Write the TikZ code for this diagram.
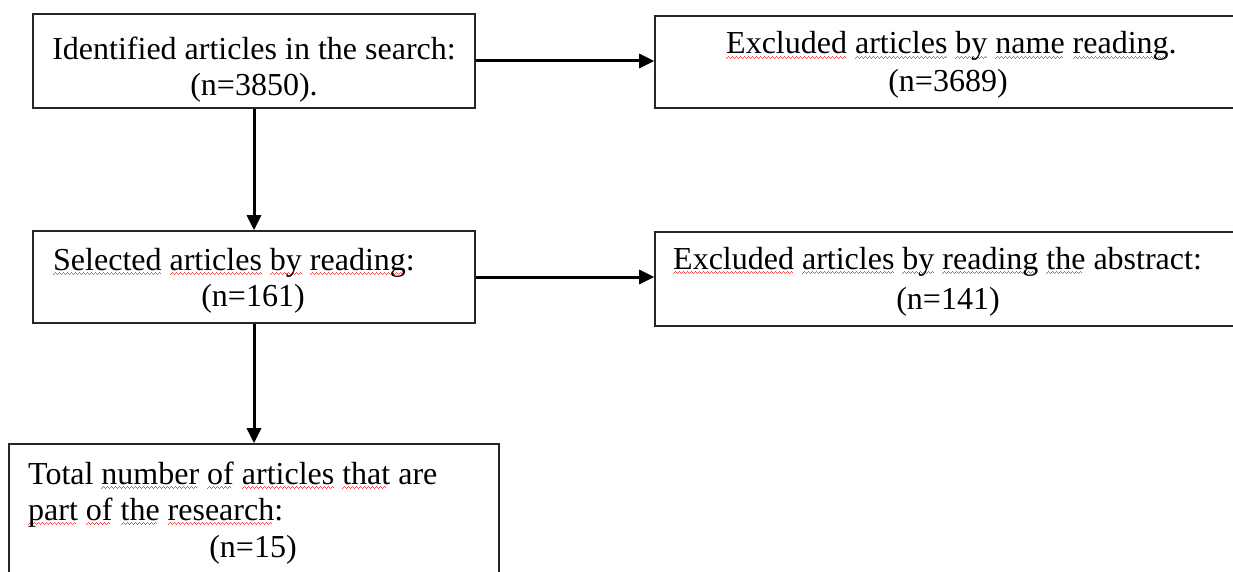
\documentclass[tikz,border=0pt]{standalone}
\usepackage{fontspec}
\setmainfont{Liberation Serif}
\usetikzlibrary{arrows.meta}
\definecolor{wavered}{RGB}{235,80,80}
\newcommand\wv{\hbox{\rule[-5pt]{1pt}{1.3pt}\rule[-4pt]{1pt}{1.3pt}\rule[-3pt]{1pt}{1.3pt}\rule[-4pt]{1pt}{1.3pt}}}
\newcommand\rw[1]{\setbox0\hbox{#1}\rlap{\textcolor{wavered}{\hbox to \wd0{\leaders\wv\hfill}}}\box0\relax}
\tikzset{
  box/.style={draw=black!85, line width=1.6pt, rectangle, inner sep=0pt},
  txt/.style={inner sep=0pt, font=\fontsize{32}{38}\selectfont, text=black},
  arr/.style={line width=3pt, -{Triangle[length=15pt,width=14pt]}}
}
\begin{document}
\begin{tikzpicture}[x=1pt,y=-1pt]
\clip (0,0) rectangle (1233,572);
\fill[white] (0,0) rectangle (1233,572);
% boxes
\node[box, minimum width=442pt, minimum height=94pt] (A) at (254,61) {};
\node[box, minimum width=590pt, minimum height=92pt] (B) at (950,62) {};
\node[box, minimum width=442pt, minimum height=92pt] (C) at (254,277) {};
\node[box, minimum width=590pt, minimum height=94pt] (D) at (950,279) {};
\node[box, minimum width=490pt, minimum height=156pt] (E) at (254,522) {};
% texts
\node[txt, anchor=base] (a1) at (254,60) {Identified articles in the search:};
\node[txt, anchor=base] (a2) at (254,96) {(n=3850).};
\node[txt, anchor=base west] (b1) at (726,54) {\rw{Excluded} \rw{articles} \rw{by} \rw{name} \rw{reading}.};
\node[txt, anchor=base] (b2) at (948,92) {(n=3689)};
\node[txt, anchor=base west] (c1) at (53,270) {\rw{Selected} \rw{articles} \rw{by} \rw{reading}:};
\node[txt, anchor=base] (c2) at (253,306) {(n=161)};
\node[txt, anchor=base west] (d1) at (673,269) {\rw{Excluded} \rw{articles} \rw{by} \rw{reading} \rw{the} abstract:};
\node[txt, anchor=base] (d2) at (948,309) {(n=141)};
\node[txt, anchor=base west] (e1) at (28,484) {Total \rw{number} \rw{of} \rw{articles} \rw{that} are};
\node[txt, anchor=base west] (e2) at (28,520) {\rw{part} \rw{of} \rw{the} \rw{research}:};
\node[txt, anchor=base] (e3) at (253,557) {(n=15)};
% connectors
\draw[arr] (A.east) -- (A.east -| B.west);
\draw[arr] (A.south) -- (C.north);
\draw[arr] (C.east) -- (C.east -| D.west);
\draw[arr] (C.south) -- (E.north);
\end{tikzpicture}
\end{document}
